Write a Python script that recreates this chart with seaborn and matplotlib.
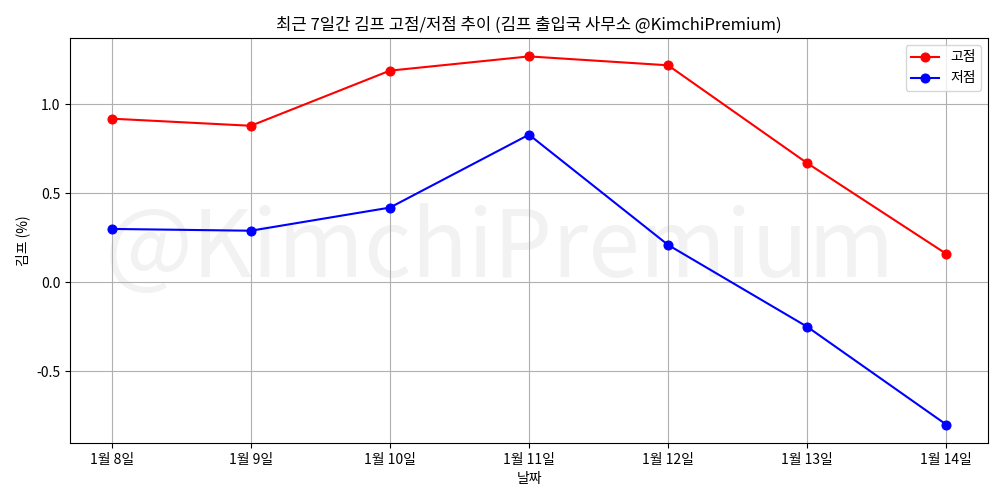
import seaborn as sns
import matplotlib.pyplot as plt
import pandas as pd

plt.rcParams['font.family'] = ['Noto Sans CJK KR', 'DejaVu Sans']
plt.rcParams['axes.unicode_minus'] = False

# 데이터
dates = ["1월 8일", "1월 9일", "1월 10일", "1월 11일", "1월 12일", "1월 13일", "1월 14일"]
high = [0.92, 0.88, 1.19, 1.27, 1.22, 0.67, 0.16]
low = [0.30, 0.29, 0.42, 0.83, 0.21, -0.25, -0.80]

df = pd.DataFrame({"날짜": dates, "고점": high, "저점": low})

fig, ax = plt.subplots(figsize=(10, 5), dpi=100)

sns.lineplot(data=df, x="날짜", y="고점", color="red", marker="o",
             markersize=6.5, markeredgecolor="red", label="고점", ax=ax, sort=False)
sns.lineplot(data=df, x="날짜", y="저점", color="blue", marker="o",
             markersize=6.5, markeredgecolor="blue", label="저점", ax=ax, sort=False)

# 워터마크 (그림 중앙)
wm = ax.text(0.5, 0.5, "@KimchiPremium", transform=fig.transFigure, fontsize=67,
             color="gray", alpha=0.1, ha="center", va="center", zorder=0)
wm.set_in_layout(False)

ax.set_title("최근 7일간 김프 고점/저점 추이 (김프 출입국 사무소 @KimchiPremium)")
ax.set_xlabel("날짜")
ax.set_ylabel("김프 (%)")
ax.grid(True)
ax.legend(loc="upper right")

plt.subplots_adjust(left=0.07, right=0.988, top=0.924, bottom=0.114)
plt.savefig("out.png")
